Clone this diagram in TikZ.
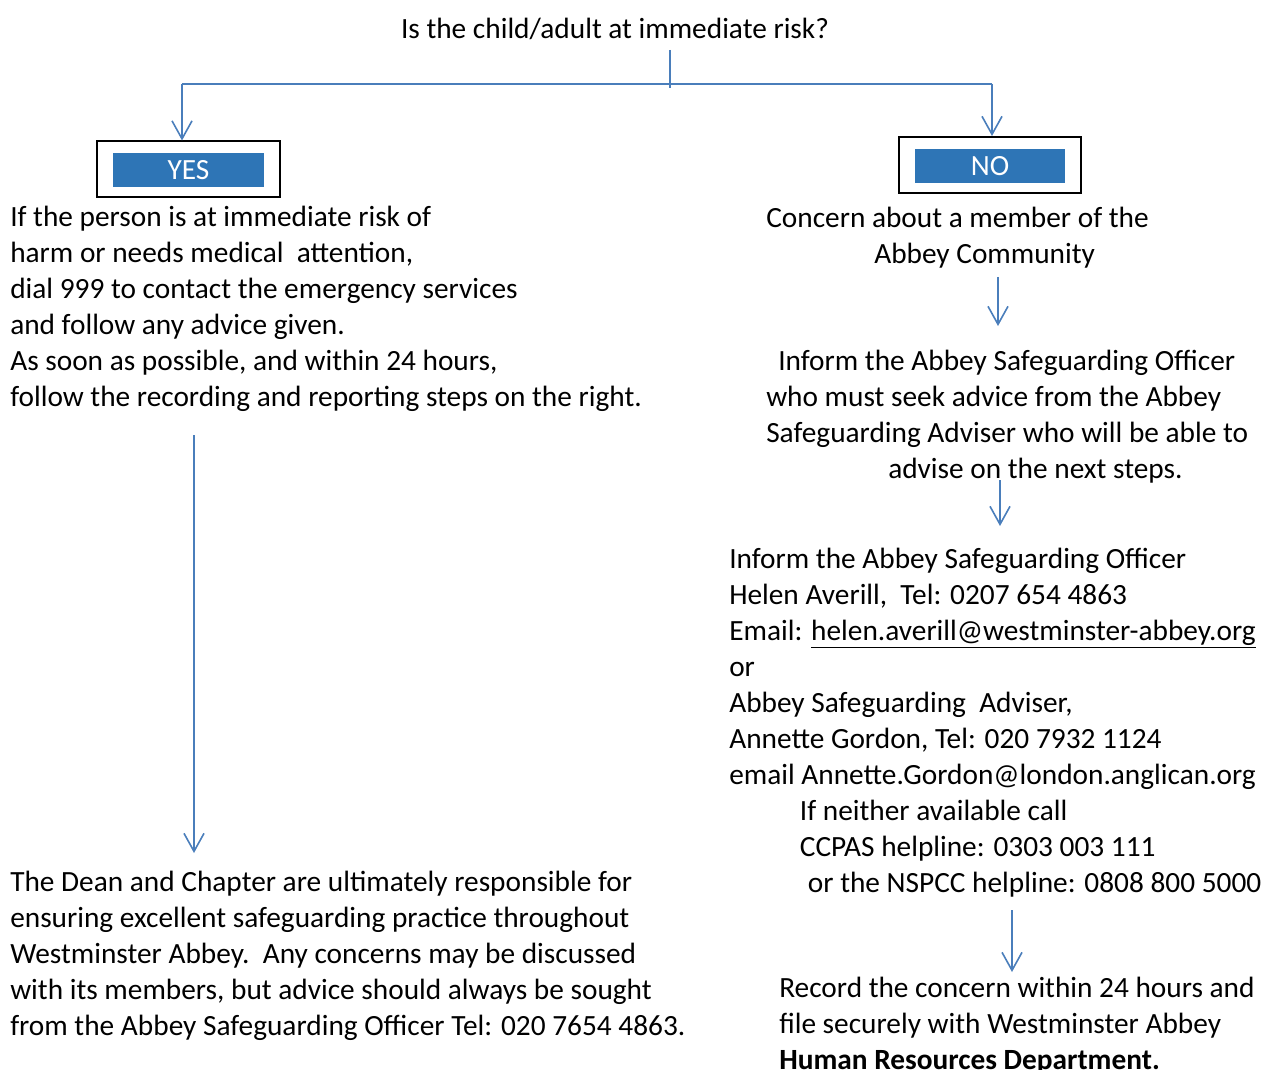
\documentclass[tikz,border=0pt]{standalone}
\usepackage{fontspec}
\setmainfont{Carlito}
\usetikzlibrary{arrows.meta}
\definecolor{lineblue}{HTML}{4A7EBB}
\definecolor{boxblue}{HTML}{2E75B6}
\begin{document}
\begin{tikzpicture}[x=0.75pt,y=-0.75pt,
  txt/.style={inner sep=0pt,font=\fontsize{22pt}{27pt}\selectfont,align=left,anchor=base west},
  conn/.style={draw=lineblue,line width=1.2pt},
  arr/.style={conn,-{Straight Barb[length=13.5pt,width=15pt,line width=1.2pt]}},
  outerbox/.style={draw=black,line width=1.5pt,minimum width=137pt,minimum height=42pt,inner sep=0pt},
  innerbox/.style={fill=boxblue,text=white,minimum width=113pt,minimum height=25.5pt,inner sep=0pt,font=\fontsize{22pt}{24pt}\selectfont}]
\useasboundingbox (0,0) rectangle (1272,1070);
% title
\node[txt,anchor=base] (q) at (615,39) {Is the child/adult at immediate risk?};
% connectors
\coordinate (qb) at (670,88);
\coordinate (hl) at (182,84);
\coordinate (hr) at (992,84);
\draw[conn] (670,50) -- (qb);
\draw[conn] (hl) -- (hr);
% boxes
\node[outerbox] (yesout) at (188.5,169.5) {};
\node[innerbox] (yes) at (188.5,170) {YES};
\node[outerbox] (noout) at (990,165) {};
\node[innerbox] (no) at (990,166) {NO};
\draw[arr] (hl) -- (yesout.north -| hl);
\draw[arr] (hr) -- (noout.north -| hr);
% left text
\node[txt] (left1) at (10,406) {If the person is at immediate risk of\\
harm or needs medical\ \ attention,\\
dial 999 to contact the emergency services\\
and follow any advice given.\\
As soon as possible, and within 24 hours,\\
follow the recording and reporting steps on the right.};
\node[txt] (left2) at (10,1035) {The Dean and Chapter are ultimately responsible for\\
ensuring excellent safeguarding practice throughout\\
Westminster Abbey.\ \ Any concerns may be discussed\\
with its members, but advice should always be sought\\
from the Abbey Safeguarding Officer Tel: 020 7654 4863.};
\coordinate (la) at (194,435);
\coordinate (lb) at (194,853);
\draw[arr] (la) -- (lb);
% right text
\node[txt] (r1) at (766,263) {Concern about a member of the\\
\hspace*{81pt}Abbey Community};
\draw[arr] (998,277) -- (998,326);
\node[txt] (r2) at (766,478) {\hspace*{9pt}Inform the Abbey Safeguarding Officer\\
who must seek advice from the Abbey\\
Safeguarding Adviser who will be able to\\
\hspace*{91.5pt}advise on the next steps.};
\draw[arr] (1000,480) -- (1000,526);
\node[txt] (r3) at (729,892) {Inform the Abbey Safeguarding Officer\\
Helen Averill,\ \ Tel: 0207 654 4863\\
Email: \underline{helen.averill@westminster-abbey.org}\\
or\\
Abbey Safeguarding\ \ Adviser,\\
Annette Gordon, Tel: 020 7932 1124\\
email Annette.Gordon@london.anglican.org\\
\hspace*{53pt}If neither available call\\
\hspace*{53pt}CCPAS helpline: 0303 003 111\\
\hspace*{59pt}or the NSPCC helpline: 0808 800 5000};
\draw[arr] (1012,910) -- (1012,972);
\node[txt] (r4) at (779,1069) {Record the concern within 24 hours and\\
file securely with Westminster Abbey\\
\textbf{Human Resources Department.}};
\end{tikzpicture}
\end{document}
